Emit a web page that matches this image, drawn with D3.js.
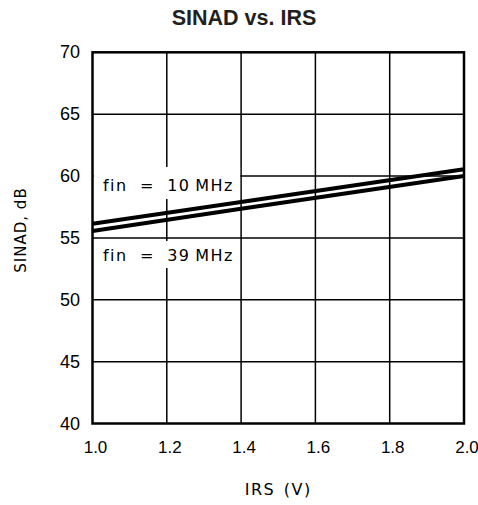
<!DOCTYPE html>
<html>
<head>
<meta charset="utf-8">
<script src="https://cdn.jsdelivr.net/npm/d3@7"></script>
<style>
  html, body { margin: 0; padding: 0; background: #fff; }
  svg { display: block; }
</style>
</head>
<body>
<svg id="chart" width="478" height="505"></svg>
<script>
// ---- data ----
const xTicks = [1.0, 1.2, 1.4, 1.6, 1.8, 2.0];
const yTicks = [40, 45, 50, 55, 60, 65, 70];
const irs = [1.0, 1.4, 2.0];
const sinad10MHz = [56.15, 57.9, 60.55];
const sinad39MHz = [55.55, 57.35, 60.0];
const seriesPrefix = ["fin = 10", "fin = 39"];
const seriesUnit = "MHz";
const titleText = "SINAD vs. IRS";
const xTitle = "IRS (V)";
const yTitle = "SINAD, dB";

// ---- layout ----
const svg = d3.select("#chart");
const m = { left: 92.5, top: 52.3, right: 464, bottom: 423.5 };
const x = d3.scaleLinear().domain([1.0, 2.0]).range([m.left, m.right]);
const y = d3.scaleLinear().domain([40, 70]).range([m.bottom, m.top]);
const tickFont = "'Liberation Sans', Arial, sans-serif";

// title
svg.append("text")
  .attr("x", 244).attr("y", 25)
  .attr("text-anchor", "middle")
  .style("font-family", tickFont)
  .style("font-weight", "bold")
  .style("font-size", "21.5px")
  .attr("fill", "#231f20")
  .text(titleText);

// grid
const grid = svg.append("g").attr("stroke", "#000").attr("stroke-width", 1.5);
grid.selectAll("line.v").data(xTicks.slice(1, -1)).join("line")
  .attr("x1", d => x(d)).attr("x2", d => x(d))
  .attr("y1", m.top).attr("y2", m.bottom);
grid.selectAll("line.h").data(yTicks.slice(1, -1)).join("line")
  .attr("x1", m.left).attr("x2", m.right)
  .attr("y1", d => y(d)).attr("y2", d => y(d));

// label backgrounds (cover gridlines like the reference)
svg.append("rect").attr("x", m.left + 1.5).attr("y", 167)
  .attr("width", x(1.4) - m.left - 2.5).attr("height", 32).attr("fill", "#fff");
svg.append("rect").attr("x", m.left + 1.5).attr("y", 241)
  .attr("width", x(1.4) - m.left - 4).attr("height", 27).attr("fill", "#fff");

// frame
svg.append("rect")
  .attr("x", m.left).attr("y", m.top)
  .attr("width", m.right - m.left).attr("height", m.bottom - m.top)
  .attr("fill", "none").attr("stroke", "#000").attr("stroke-width", 2.5);

// series lines
const line = d3.line().x((d, i) => x(irs[i])).y(d => y(d));
[sinad10MHz, sinad39MHz].forEach(s => {
  svg.append("path").datum(s)
    .attr("d", line)
    .attr("fill", "none")
    .attr("stroke", "#000")
    .attr("stroke-width", 4);
});

// series labels
const labFont = "'DejaVu Sans', sans-serif";
[[seriesPrefix[0], 191], [seriesPrefix[1], 261]].forEach(([t, yy]) => {
  const tx = svg.append("text")
    .attr("x", 103).attr("y", yy)
    .style("font-family", labFont)
    .style("font-size", "16px")
    .style("letter-spacing", "1.4px")
    .attr("fill", "#000");
  tx.append("tspan").style("word-spacing", "6px").text(t);
  tx.append("tspan").attr("dx", 5).text(seriesUnit);
});

// y tick labels
svg.append("g").selectAll("text").data(yTicks).join("text")
  .attr("x", 80).attr("y", d => y(d) + 6)
  .attr("text-anchor", "end")
  .style("font-family", tickFont)
  .style("font-size", "18px")
  .attr("fill", "#000")
  .text(d => d);

// x tick labels
svg.append("g").selectAll("text").data(xTicks).join("text")
  .attr("x", d => x(d) + 3).attr("y", 453)
  .attr("text-anchor", "middle")
  .style("font-family", tickFont)
  .style("font-size", "17px")
  .attr("fill", "#000")
  .text(d => d3.format(".1f")(d));

// axis titles
svg.append("text")
  .attr("x", (m.left + m.right) / 2).attr("y", 495)
  .attr("text-anchor", "middle")
  .style("font-family", labFont)
  .style("font-size", "16px")
  .style("letter-spacing", "1.5px")
  .style("word-spacing", "2px")
  .attr("fill", "#000")
  .text(xTitle);

svg.append("text")
  .attr("transform", "translate(26,230) rotate(-90)")
  .attr("text-anchor", "middle")
  .style("font-family", labFont)
  .style("font-size", "15px")
  .style("letter-spacing", "1px")
  .attr("fill", "#000")
  .text(yTitle);
</script>
</body>
</html>
